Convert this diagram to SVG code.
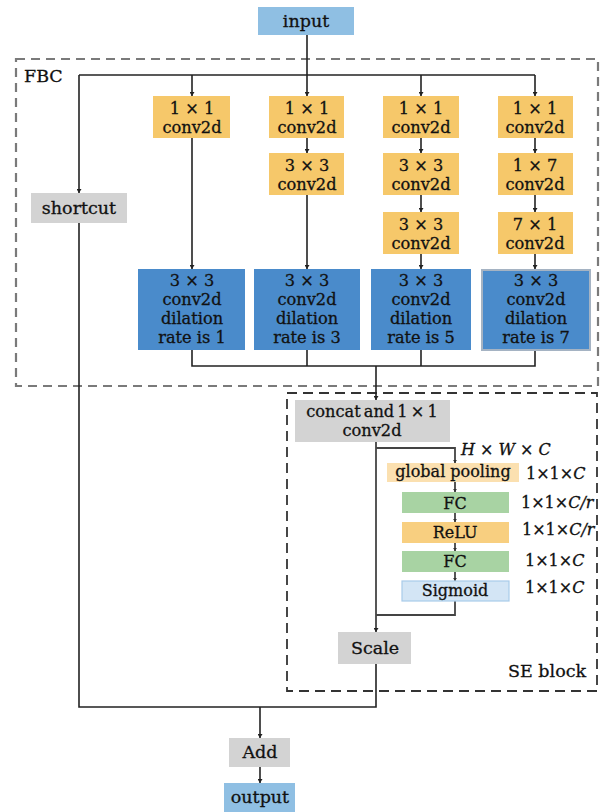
<svg xmlns="http://www.w3.org/2000/svg" width="604" height="812" viewBox="0 0 604 812">
<defs>
<marker id="ah" viewBox="0 0 8 10" refX="8" refY="5" markerWidth="4" markerHeight="5" orient="auto" markerUnits="userSpaceOnUse">
<path d="M0,0 L8,5 L0,10 z" fill="#222"/>
</marker>
<marker id="as" viewBox="0 0 8 10" refX="8" refY="5" markerWidth="3.5" markerHeight="4" orient="auto" markerUnits="userSpaceOnUse">
<path d="M0,0 L8,5 L0,10 z" fill="#333"/>
</marker>
</defs>
<style>
text{font-family:"DejaVu Serif","Liberation Serif",serif;font-size:17.5px;fill:#111;stroke:#111;stroke-width:0.3;text-anchor:middle}
.m{font-size:16.2px}
.lbl{text-anchor:start}
.sm{font-size:16px}
.it{font-style:italic}
.yel{fill:#f6c86a}
.blu{fill:#4a8bcb}
.gry{fill:#d3d3d3}
.io{fill:#8fbfe3}
.cn{fill:none;stroke:#222;stroke-width:1.6}
.cs{fill:none;stroke:#444;stroke-width:1.8}
</style>
<rect width="604" height="812" fill="#fff"/>

<g id="fbc-block">
<rect x="16" y="59" width="582" height="327" fill="none" stroke="#7a7a7a" stroke-width="2.2" stroke-dasharray="9,6"/>
<text class="lbl" x="24" y="82">FBC</text>
</g>
<g id="se-block">
<rect x="287" y="393" width="310" height="298" fill="none" stroke="#333" stroke-width="1.8" stroke-dasharray="10,6"/>
<text class="lbl" x="508" y="677">SE block</text>
</g>

<g id="connectors">
<polyline class="cn" points="307,35 307,75"/>
<polyline class="cn" points="79,75 535,75"/>
<line class="cn" x1="79" y1="75" x2="79" y2="193" marker-end="url(#ah)"/>
<line class="cn" x1="192" y1="75" x2="192" y2="96" marker-end="url(#ah)"/>
<line class="cn" x1="307" y1="75" x2="307" y2="96" marker-end="url(#ah)"/>
<line class="cn" x1="421" y1="75" x2="421" y2="96" marker-end="url(#ah)"/>
<line class="cn" x1="535" y1="75" x2="535" y2="96" marker-end="url(#ah)"/>
<line class="cn" x1="192" y1="138" x2="192" y2="269" marker-end="url(#ah)"/>
<line class="cn" x1="307" y1="138" x2="307" y2="153" marker-end="url(#ah)"/>
<line class="cn" x1="307" y1="195" x2="307" y2="269" marker-end="url(#ah)"/>
<line class="cn" x1="421" y1="138" x2="421" y2="153" marker-end="url(#ah)"/>
<line class="cn" x1="421" y1="195" x2="421" y2="212" marker-end="url(#ah)"/>
<line class="cn" x1="421" y1="254" x2="421" y2="269" marker-end="url(#ah)"/>
<line class="cn" x1="535" y1="138" x2="535" y2="153" marker-end="url(#ah)"/>
<line class="cn" x1="535" y1="195" x2="535" y2="212" marker-end="url(#ah)"/>
<line class="cn" x1="535" y1="254" x2="535" y2="269" marker-end="url(#ah)"/>
<polyline class="cn" points="192,350 192,366 535,366 535,350"/>
<line class="cn" x1="307" y1="350" x2="307" y2="366"/>
<line class="cn" x1="421" y1="350" x2="421" y2="366"/>
<line class="cn" x1="376" y1="366" x2="376" y2="400" stroke-width="2.2" marker-end="url(#ah)"/>
<line class="cs" x1="376" y1="442" x2="376" y2="632" marker-end="url(#ah)"/>
<polyline class="cs" points="376,448 455,448 455,463" marker-end="url(#as)"/>
<line class="cs" x1="455" y1="482" x2="455" y2="492" stroke-width="1.2" marker-end="url(#as)"/>
<line class="cs" x1="455" y1="513" x2="455" y2="522" stroke-width="1.2" marker-end="url(#as)"/>
<line class="cs" x1="455" y1="543" x2="455" y2="551" stroke-width="1.2" marker-end="url(#as)"/>
<line class="cs" x1="455" y1="572" x2="455" y2="581" stroke-width="1.2" marker-end="url(#as)"/>
<polyline class="cs" points="455,601 455,615 376,615"/>
<polyline class="cn" points="79,223 79,707 376,707 376,664"/>
<line class="cn" x1="260" y1="707" x2="260" y2="738" marker-end="url(#ah)"/>
<line class="cn" x1="260" y1="767" x2="260" y2="783" marker-end="url(#ah)"/>
</g>

<g id="input"><rect class="io" x="258" y="7" width="96" height="28"/><text x="306" y="27">input</text></g>
<g id="shortcut"><rect class="gry" x="31" y="193" width="96" height="30"/><text x="79" y="214">shortcut</text></g>

<g id="b1-conv1"><rect class="yel" x="153" y="96" width="77" height="42"/><text class="m" x="192" y="114">1 × 1</text><text class="m" x="192" y="133">conv2d</text></g>
<g id="b2-conv1"><rect class="yel" x="269" y="96" width="75" height="42"/><text class="m" x="307" y="114">1 × 1</text><text class="m" x="307" y="133">conv2d</text></g>
<g id="b2-conv2"><rect class="yel" x="269" y="153" width="75" height="42"/><text class="m" x="307" y="171">3 × 3</text><text class="m" x="307" y="190">conv2d</text></g>
<g id="b3-conv1"><rect class="yel" x="383" y="96" width="76" height="42"/><text class="m" x="421" y="114">1 × 1</text><text class="m" x="421" y="133">conv2d</text></g>
<g id="b3-conv2"><rect class="yel" x="383" y="153" width="76" height="42"/><text class="m" x="421" y="171">3 × 3</text><text class="m" x="421" y="190">conv2d</text></g>
<g id="b3-conv3"><rect class="yel" x="383" y="212" width="76" height="42"/><text class="m" x="421" y="230">3 × 3</text><text class="m" x="421" y="249">conv2d</text></g>
<g id="b4-conv1"><rect class="yel" x="498" y="96" width="75" height="42"/><text class="m" x="535" y="114">1 × 1</text><text class="m" x="535" y="133">conv2d</text></g>
<g id="b4-conv2"><rect class="yel" x="498" y="153" width="75" height="42"/><text class="m" x="535" y="171">1 × 7</text><text class="m" x="535" y="190">conv2d</text></g>
<g id="b4-conv3"><rect class="yel" x="498" y="212" width="75" height="42"/><text class="m" x="535" y="230">7 × 1</text><text class="m" x="535" y="249">conv2d</text></g>

<g id="b1-dil"><rect class="blu" x="138" y="269" width="107" height="81"/><text class="m" x="192" y="286">3 × 3</text><text class="m" x="192" y="305">conv2d</text><text class="m" x="192" y="324">dilation</text><text class="m" x="192" y="343">rate is 1</text></g>
<g id="b2-dil"><rect class="blu" x="254" y="269" width="106" height="81"/><text class="m" x="307" y="286">3 × 3</text><text class="m" x="307" y="305">conv2d</text><text class="m" x="307" y="324">dilation</text><text class="m" x="307" y="343">rate is 3</text></g>
<g id="b3-dil"><rect class="blu" x="371" y="269" width="100" height="81"/><text class="m" x="421" y="286">3 × 3</text><text class="m" x="421" y="305">conv2d</text><text class="m" x="421" y="324">dilation</text><text class="m" x="421" y="343">rate is 5</text></g>
<g id="b4-dil"><rect class="blu" x="482" y="270" width="108" height="80" stroke="#a5b3c3" stroke-width="2"/><text class="m" x="536" y="286">3 × 3</text><text class="m" x="536" y="305">conv2d</text><text class="m" x="536" y="324">dilation</text><text class="m" x="536" y="343">rate is 7</text></g>

<g id="concat"><rect class="gry" x="295" y="400" width="155" height="42"/><text class="m" x="372" y="417" word-spacing="-2">concat and 1 × 1</text><text class="m" x="372" y="436">conv2d</text></g>
<g id="hwc-label"><text class="lbl sm" x="461" y="455"><tspan class="it">H</tspan> × <tspan class="it">W</tspan> × <tspan class="it">C</tspan></text></g>
<g id="global-pooling"><rect x="387" y="463" width="132" height="19" fill="#fbe0b0"/><text x="453" y="477" class="sm">global pooling</text><text class="lbl sm" x="526" y="479">1×1×<tspan class="it">C</tspan></text></g>
<g id="fc1"><rect x="402" y="492" width="107" height="21" fill="#a8d3a3"/><text x="455" y="509" class="sm">FC</text><text class="lbl sm" x="521" y="508">1×1×<tspan class="it">C/r</tspan></text></g>
<g id="relu"><rect x="402" y="522" width="107" height="21" fill="#f8cf80"/><text x="455" y="538" class="sm">ReLU</text><text class="lbl sm" x="522" y="535">1×1×<tspan class="it">C/r</tspan></text></g>
<g id="fc2"><rect x="402" y="551" width="107" height="21" fill="#a8d3a3"/><text x="455" y="567" class="sm">FC</text><text class="lbl sm" x="525" y="566">1×1×<tspan class="it">C</tspan></text></g>
<g id="sigmoid"><rect x="402" y="581" width="107" height="20" fill="#d3e5f5" stroke="#a9cbe9" stroke-width="1.2"/><text x="455" y="596" class="sm">Sigmoid</text><text class="lbl sm" x="525" y="593">1×1×<tspan class="it">C</tspan></text></g>
<g id="scale"><rect class="gry" x="338" y="632" width="73" height="32"/><text x="375" y="654">Scale</text></g>
<g id="add"><rect class="gry" x="229" y="738" width="61" height="29"/><text x="260" y="758">Add</text></g>
<g id="output"><rect class="io" x="224" y="783" width="71" height="29"/><text x="260" y="803">output</text></g>
</svg>
